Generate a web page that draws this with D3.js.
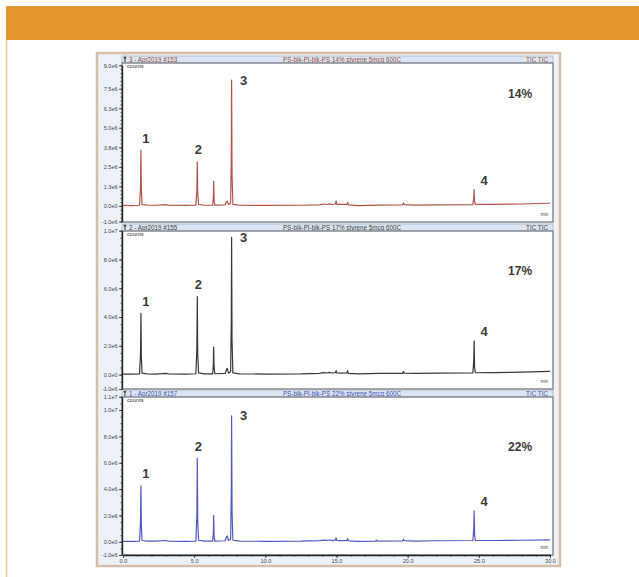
<!DOCTYPE html>
<html lang="en">
<head>
<meta charset="utf-8" />
<title>Py-GC/MS TIC - PS-blk-PI-blk-PS</title>
<script src="https://d3js.org/d3.v7.min.js"></script>
<style>
  body { margin: 0; background: #fff; }
  text { font-family: "Liberation Sans", Arial, sans-serif; }
</style>
</head>
<body>
<script>

// retention time (min), intensity (counts x 1e6)
var trace14 = [[0,0.03],[0.6,0.02],[1.16,0.04],[1.23,1.2],[1.26,3.57],[1.29,1.0],[1.34,0.08],[1.7,0.05],[2.3,0.04],[3.0,0.08],[3.2,0.04],[4.4,0.03],
  [5.12,0.05],[5.19,1.0],[5.22,2.82],[5.25,0.8],[5.31,0.1],[5.7,0.04],[6.3,0.05],[6.35,0.6],[6.37,1.58],[6.4,0.4],[6.45,0.05],
  [7.18,0.06],[7.27,0.26],[7.33,0.3],[7.41,0.08],[7.56,0.15],[7.61,3.2],[7.63,8.06],[7.66,2.0],[7.72,0.1],[8.2,0.04],[10,0.03],
  [12.5,0.04],[13.8,0.07],[14.1,0.12],[14.3,0.09],[14.5,0.13],[14.7,0.09],[14.92,0.12],[14.97,0.32],[15.02,0.1],[15.3,0.09],
  [15.74,0.1],[15.78,0.22],[15.83,0.07],[16.5,0.02],[18.0,0.05],[19.65,0.07],[19.7,0.18],[19.76,0.08],[20.5,0.05],[22,0.06],
  [24.58,0.08],[24.64,0.5],[24.67,1.05],[24.7,0.3],[24.76,0.09],[26,0.1],[28,0.12],[30,0.17]];

var trace17 = [[0,0.03],[0.6,0.03],[1.16,0.05],[1.23,1.5],[1.26,4.26],[1.29,1.2],[1.34,0.1],[1.7,0.05],[2.3,0.04],[3.0,0.09],[3.2,0.05],[4.4,0.04],
  [5.12,0.06],[5.19,1.8],[5.22,5.42],[5.25,1.4],[5.31,0.12],[5.7,0.05],[6.3,0.05],[6.35,0.7],[6.37,1.92],[6.4,0.5],[6.45,0.06],
  [7.18,0.08],[7.27,0.36],[7.33,0.44],[7.41,0.1],[7.56,0.2],[7.61,3.8],[7.63,9.54],[7.66,2.4],[7.72,0.12],[8.2,0.05],[10,0.04],
  [12.5,0.05],[13.8,0.09],[14.1,0.14],[14.3,0.11],[14.5,0.15],[14.7,0.11],[14.92,0.14],[14.97,0.28],[15.02,0.12],[15.3,0.11],
  [15.74,0.12],[15.78,0.27],[15.83,0.09],[16.5,0.05],[18.0,0.08],[19.65,0.09],[19.7,0.22],[19.76,0.1],[20.5,0.08],[22,0.1],
  [24.58,0.12],[24.64,0.9],[24.67,2.34],[24.7,0.5],[24.76,0.13],[26,0.14],[28,0.17],[30,0.22]];

var trace22 = [[0,0.03],[0.6,0.03],[1.16,0.05],[1.23,1.5],[1.26,4.24],[1.29,1.2],[1.34,0.1],[1.7,0.05],[2.3,0.05],[3.0,0.1],[3.2,0.05],[4.4,0.04],
  [5.12,0.06],[5.19,2.0],[5.22,6.34],[5.25,1.6],[5.31,0.12],[5.7,0.05],[6.3,0.05],[6.35,0.7],[6.37,2.0],[6.4,0.5],[6.45,0.06],
  [7.18,0.08],[7.27,0.38],[7.33,0.45],[7.41,0.1],[7.56,0.2],[7.61,3.8],[7.63,9.55],[7.66,2.4],[7.72,0.12],[8.2,0.05],[10,0.04],
  [12.5,0.05],[13.8,0.09],[14.1,0.13],[14.3,0.11],[14.5,0.14],[14.7,0.09],[14.92,0.13],[14.97,0.3],[15.02,0.1],[15.3,0.09],
  [15.74,0.1],[15.78,0.25],[15.83,0.07],[16.5,0.04],[17.74,0.06],[17.8,0.13],[17.86,0.06],[19.65,0.07],[19.7,0.2],[19.76,0.09],
  [20.5,0.06],[22,0.08],[24.58,0.1],[24.64,0.9],[24.67,2.35],[24.7,0.5],[24.76,0.11],[26,0.1],[28,0.12],[30,0.15]];

var peakNames = ["1", "2", "3", "4"];
var peakTimes = [1.26, 5.22, 7.63, 24.67];

var runLabels = ["3 - Apr2019 #153", "2 - Apr2019 #155", "1 - Apr2019 #157"];
var runTitles = ["PS-blk-PI-blk-PS 14% styrene 5mcg 600C",
                 "PS-blk-PI-blk-PS 17% styrene 5mcg 600C",
                 "PS-blk-PI-blk-PS 22% styrene 5mcg 600C"];
var percents = ["14%", "17%", "22%"];

var yTicks14 = [-1, 0, 1.25, 2.5, 3.75, 5, 6.25, 7.5, 9];
var yLabels14 = ["-1.0e6", "0.0e0", "1.3e6", "2.5e6", "3.8e6", "5.0e6", "6.3e6", "7.5e6", "9.0e6"];
var yTicks17 = [-1, 0, 2, 4, 6, 8, 10];
var yLabels17 = ["-1.0e6", "0.0e0", "2.0e6", "4.0e6", "6.0e6", "8.0e6", "1.0e7"];
var yTicks22 = [-1, 0, 2, 4, 6, 8, 10, 11];
var yLabels22 = ["-1.0e6", "0.0e0", "2.0e6", "4.0e6", "6.0e6", "8.0e6", "1.0e7", "1.1e7"];

var xTicks = [0, 5, 10, 15, 20, 25, 30];
var xLabels = ["0.0", "5.0", "10.0", "15.0", "20.0", "25.0", "30.0"];

// panel layout
var panels = [
  {trace: trace14, ticks: yTicks14, labels: yLabels14, minor: 0.25, yMax: 9,  barTop: 56,  top: 63,  bottom: 222, r0: 221.5, r1: 65.3,
   line: "#b3554b", ink: "#a44a40"},
  {trace: trace17, ticks: yTicks17, labels: yLabels17, minor: 0.5,  yMax: 10, barTop: 224, top: 231, bottom: 389, r0: 389,   r1: 230.7,
   line: "#383838", ink: "#444"},
  {trace: trace22, ticks: yTicks22, labels: yLabels22, minor: 0.5,  yMax: 11, barTop: 390, top: 397, bottom: 555, r0: 555,   r1: 396.8,
   line: "#5259c2", ink: "#4551b2"}
];
var labelOffsets = [[5, -12], [1, -12], [12, 0], [10, -9]];

var frameLeft = 122, frameRight = 553;

var x = d3.scaleLinear().domain([0, 30]).range([123, 550]);

var svg = d3.select("body")
  .append("svg")
    .attr("width", 639)
    .attr("height", 577);

// page header band + border
svg.append("rect").attr("x", 6).attr("y", 6).attr("width", 633).attr("height", 34).attr("fill", "#e3982d");
svg.append("line").attr("x1", 6.5).attr("x2", 6.5).attr("y1", 40).attr("y2", 577)
  .attr("stroke", "#f0c58a").attr("stroke-width", 1.5);

// chart window
svg.append("rect")
  .attr("x", 97).attr("y", 53).attr("width", 463).attr("height", 513)
  .attr("fill", "#edf2f8").attr("stroke", "#d8bea8").attr("stroke-width", 2.5);

panels.forEach(function(p, i) {
  var y = d3.scaleLinear().domain([-1, p.yMax]).range([p.r0, p.r1]);

  // title bar
  svg.append("rect")
    .attr("x", frameLeft).attr("y", p.barTop)
    .attr("width", frameRight - frameLeft).attr("height", p.top - p.barTop)
    .attr("fill", "#d9e6f3").attr("stroke", "#9aa4ae").attr("stroke-width", 0.6);
  svg.append("line")
    .attr("x1", 125).attr("x2", 125).attr("y1", p.barTop + 1).attr("y2", p.top - 0.5)
    .attr("stroke", "#333").attr("stroke-width", 1);
  svg.append("rect").attr("x", 123.8).attr("y", p.barTop + 0.8).attr("width", 2.4).attr("height", 1.6).attr("fill", "#333");
  var mid = p.barTop + (p.top - p.barTop) / 2;
  svg.append("text").attr("x", 129).attr("y", mid).attr("dy", "0.35em")
    .attr("font-size", 6.3).attr("fill", p.ink).text(runLabels[i]);
  svg.append("text").attr("x", 342).attr("y", mid).attr("dy", "0.35em").attr("text-anchor", "middle")
    .attr("font-size", 6.3).attr("fill", p.ink).text(runTitles[i]);
  svg.append("text").attr("x", 548).attr("y", mid).attr("dy", "0.35em").attr("text-anchor", "end")
    .attr("font-size", 6.3).attr("fill", p.ink).text("TIC TIC");

  // plot frame
  svg.append("rect")
    .attr("x", frameLeft).attr("y", p.top)
    .attr("width", frameRight - frameLeft).attr("height", p.bottom - p.top)
    .attr("fill", "#fff").attr("stroke", "#858a90").attr("stroke-width", 1.5);

  // y axis: minor then major ticks
  var minorTicks = d3.range(-1, p.yMax + 0.001, p.minor);
  svg.append("g")
    .attr("transform", "translate(" + frameLeft + ",0)")
    .call(d3.axisLeft(y).tickValues(minorTicks).tickSize(1.8).tickFormat(""))
    .call(function(g) { g.select(".domain").remove(); })
    .selectAll("line").attr("stroke", "#333").attr("stroke-width", 0.6);

  var ay = svg.append("g")
    .attr("transform", "translate(" + frameLeft + ",0)")
    .call(d3.axisLeft(y).tickValues(p.ticks).tickSize(3).tickSizeOuter(0).tickPadding(1.5)
      .tickFormat(function(d, k) { return p.labels[k]; }));
  ay.select(".domain").attr("stroke", "#222").attr("stroke-width", 1.4);
  ay.selectAll("line").attr("stroke", "#222").attr("stroke-width", 0.8);
  ay.selectAll("text").attr("font-size", 5.5).attr("fill", "#3c4450")
    .attr("font-family", "'Liberation Sans', Arial, sans-serif");

  svg.append("text").attr("x", 127).attr("y", p.top + 4.5).attr("font-size", 5.6).attr("fill", "#333").text("counts");
  svg.append("text").attr("x", 548).attr("y", p.bottom - 6).attr("text-anchor", "end")
    .attr("font-size", 4.6).attr("fill", "#333").text("min");

  // trace
  var line = d3.line().x(function(d) { return x(d[0]); }).y(function(d) { return y(d[1]); });
  svg.append("path")
    .datum(p.trace)
    .attr("d", line)
    .attr("fill", "none")
    .attr("stroke", p.line)
    .attr("stroke-width", 1.2)
    .attr("stroke-linejoin", "round");

  // peak numbers
  peakTimes.forEach(function(t, k) {
    var pt = p.trace.find(function(d) { return d[0] === t; });
    svg.append("text")
      .attr("x", x(pt[0]) + labelOffsets[k][0])
      .attr("y", y(pt[1]) + labelOffsets[k][1])
      .attr("dy", "0.35em")
      .attr("text-anchor", "middle")
      .attr("font-size", 13)
      .attr("font-weight", "bold")
      .attr("fill", "#3a3a3a")
      .text(peakNames[k]);
  });

  svg.append("text")
    .attr("x", x(27.9)).attr("y", y(7.2)).attr("dy", "0.35em").attr("text-anchor", "middle")
    .attr("font-size", 12).attr("font-weight", "bold").attr("fill", "#3a3a3a")
    .text(percents[i]);
});

// x axis under the last panel
var last = panels[2];
svg.append("g")
  .attr("transform", "translate(0," + last.bottom + ")")
  .call(d3.axisBottom(x).tickValues(d3.range(0, 31, 1)).tickSize(2).tickFormat(""))
  .call(function(g) { g.select(".domain").remove(); })
  .selectAll("line").attr("stroke", "#333").attr("stroke-width", 0.6);
var ax = svg.append("g")
  .attr("transform", "translate(0," + last.bottom + ")")
  .call(d3.axisBottom(x).tickValues(xTicks).tickSize(3).tickSizeOuter(0).tickPadding(1.5)
    .tickFormat(function(d, k) { return xLabels[k]; }));
ax.select(".domain").attr("stroke", "#222").attr("stroke-width", 1.4);
ax.selectAll("line").attr("stroke", "#222").attr("stroke-width", 0.8);
ax.selectAll("text").attr("font-size", 5.6).attr("fill", "#3c4450")
  .attr("font-family", "'Liberation Sans', Arial, sans-serif");

</script>
</body>
</html>
